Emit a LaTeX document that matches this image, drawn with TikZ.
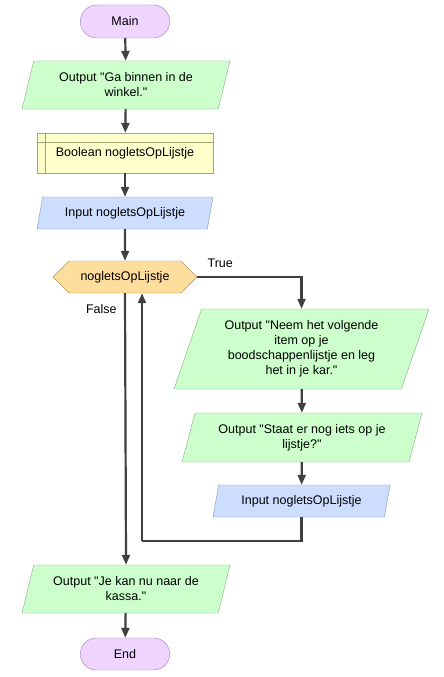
\documentclass[tikz,border=0pt]{standalone}
\usepackage{fontspec}
\setmainfont{Liberation Sans}[Ligatures=TeXOff]
\usetikzlibrary{shapes.geometric,shapes.misc,shapes.symbols,arrows.meta}
\definecolor{termfill}{HTML}{EED4FF}
\definecolor{termline}{HTML}{9E80AE}
\definecolor{outfill}{HTML}{CCFFCC}
\definecolor{outline}{HTML}{88A888}
\definecolor{infill}{HTML}{CCDDFF}
\definecolor{inline}{HTML}{8294B4}
\definecolor{declfill}{HTML}{FFFFCC}
\definecolor{declline}{HTML}{A4A474}
\definecolor{ifill}{HTML}{FFDD9C}
\definecolor{iline}{HTML}{B09458}
\definecolor{flowgray}{HTML}{404040}

\begin{document}
\begin{tikzpicture}[x=1pt,y=-1pt,font=\fontsize{12.5}{15}\selectfont,
  term/.style={draw=termline,fill=termfill,rounded rectangle,minimum width=96pt,minimum height=33pt},
  outp/.style={draw=outline,fill=outfill,trapezium,trapezium left angle=64,trapezium right angle=116,
    trapezium stretches body,inner sep=0pt,align=center,minimum height=48pt},
  inp/.style={outp,draw=inline,fill=infill,minimum height=32pt},
  decl/.style={draw=declline,fill=declfill,minimum width=176pt,minimum height=40pt},
  cond/.style={draw=iline,fill=ifill,signal,signal to=east and west,signal pointer angle=90,
    minimum width=144pt,minimum height=32pt,inner sep=0pt},
  flow/.style={line width=2.2pt,draw=flowgray,-{Triangle[length=10pt,width=8pt]}},
  back/.style={line width=2.2pt,draw=flowgray}]
\useasboundingbox (0,0) rectangle (444,677);
\node[term] (main)at(125,21.5){Main};
\node[outp,minimum width=208pt] (out1)at(126,85){Output "Ga binnen in de\\winkel."};
\node[decl] (var)at(125,153){Boolean nogletsOpLijstje};
\draw[declline] ([xshift=8]var.north west)--([xshift=8]var.south west);
\draw[declline] ([yshift=-9]var.north west)--([yshift=-9]var.north east);
\node[inp,minimum width=176pt] (in1)at(125,213){Input nogletsOpLijstje};
\node[cond] (dec)at(125,277){nogletsOpLijstje};
\node[outp,minimum width=255pt,minimum height=80pt] (out2)at(301.5,349){Output "Neem het volgende\\item op je\\boodschappenlijstje en leg\\het in je kar."};
\node[outp,minimum width=240pt,minimum height=49pt] (out3)at(302,437.5){Output "Staat er nog iets op je\\lijstje?"};
\node[inp,minimum width=177pt] (in2)at(301.5,501){Input nogletsOpLijstje};
\node[outp,minimum width=208pt] (out4)at(126,589){Output "Je kan nu naar de\\kassa."};
\node[term,minimum height=32pt] (end)at(125,654){End};
\coordinate (loop)at(142,541);
\draw[flow] (main)--(out1);
\draw[flow] (out1)--(var);
\draw[flow] (var)--(in1);
\draw[flow] (in1)--(dec);
\draw[flow] (dec.east)-|node[pos=0.11,above=5pt]{True}(out2.north);
\draw[flow] (dec.south)--node[pos=0.06,left=4pt]{False}(out4.north);
\draw[flow] (out2)--(out3);
\draw[flow] (out3)--(in2);
\draw[back] (in2.south)|-(loop);
\draw[flow] (loop)--([xshift=17]dec.south);
\draw[flow] (out4)--(end);
\end{tikzpicture}
\end{document}
